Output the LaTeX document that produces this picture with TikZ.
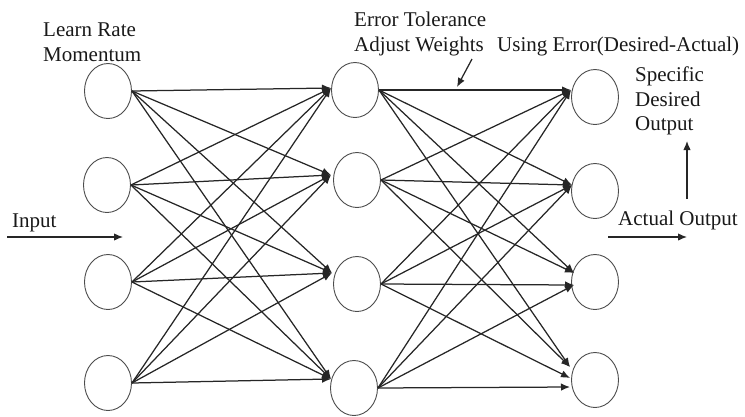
\documentclass[tikz,border=0pt]{standalone}
\usepackage{fontspec}
\setmainfont{Liberation Serif}
\usetikzlibrary{arrows.meta,shapes.geometric}
\begin{document}
\begin{tikzpicture}[x=1pt,y=-1pt,
  neuron/.style={ellipse, draw=black!70, line width=0.9pt, minimum width=47pt, minimum height=55pt, inner sep=0pt, fill=white},
  link/.style={draw=black!85, line width=1.25pt},
  tip/.style={-{Latex[length=9pt,width=7.5pt]}},
  lbl/.style={inner sep=0pt, font=\fontsize{21}{24.5}\selectfont, text=black!90, align=left}
]
\useasboundingbox (0,0) rectangle (745,416);
% neurons
\node[neuron] (a1) at (108,91) {};
\node[neuron] (a2) at (107,185) {};
\node[neuron] (a3) at (108,282) {};
\node[neuron] (a4) at (108,383) {};
\node[neuron] (b1) at (355,90) {};
\node[neuron] (b2) at (357,180) {};
\node[neuron] (b3) at (357,284) {};
\node[neuron] (b4) at (354,388) {};
\node[neuron] (c1) at (595,97) {};
\node[neuron] (c2) at (595,191) {};
\node[neuron] (c3) at (595,282) {};
\node[neuron] (c4) at (595,380) {};
% arrow tips
\coordinate (tb1) at (331,88);
\coordinate (tb2) at (331,175);
\coordinate (tb3) at (332,273);
\coordinate (tb4) at (331,379);
\coordinate (tc1) at (571,90);
\coordinate (tc2) at (572,185);
\coordinate (tc3u) at (574,273);
\coordinate (tc3l) at (574,285);
\coordinate (tc4u) at (570,367);
\coordinate (tc4m) at (570,378);
\coordinate (tc4l) at (570,387);
% layer 1 -> layer 2
\foreach \i in {1,...,4}{
  \foreach \j in {1,...,4}{
    \draw[link,tip] (a\i.east) -- (tb\j);
  }
}
% layer 2 -> layer 3
\foreach \i in {1,...,4}{
  \draw[link,tip] (b\i.east) -- (tc1);
  \draw[link,tip] (b\i.east) -- (tc2);
}
\draw[link,tip] (b1.east) -- (tc3u);
\draw[link,tip] (b2.east) -- (tc3u);
\draw[link,tip] (b3.east) -- (tc3l);
\draw[link,tip] (b4.east) -- (tc3l);
\draw[link,tip] (b1.east) -- (tc4u);
\draw[link,tip] (b2.east) -- (tc4u);
\draw[link,tip] (b3.east) -- (tc4m);
\draw[link,tip] (b4.east) -- (tc4l);
% labels
\node[lbl, anchor=north west] (lr) at (43,23) {Learn Rate\\Momentum};
\node[lbl, anchor=north west] (et) at (354,12) {Error Tolerance\\Adjust Weights};
\node[lbl, anchor=base west] (ue) at (497,51) {Using Error(Desired-Actual)};
\node[lbl, anchor=north west] (sd) at (635,67) {Specific\\Desired\\Output};
\node[lbl, anchor=base west] (in) at (12,227) {Input};
\node[lbl, anchor=base west] (ao) at (618,225) {Actual Output};
% free arrows
\coordinate (inS) at (7,237);
\coordinate (inE) at (123,237);
\coordinate (aoS) at (608,237);
\coordinate (aoE) at (687,237);
\coordinate (upS) at (687,199);
\coordinate (upE) at (687,141);
\coordinate (awS) at (472,59);
\coordinate (awE) at (457,87);
\draw[link,tip] (inS) -- (inE);
\draw[link,tip] (aoS) -- (aoE);
\draw[link,tip] (upS) -- (upE);
\draw[link,tip] (awS) -- (awE);
\end{tikzpicture}
\end{document}
